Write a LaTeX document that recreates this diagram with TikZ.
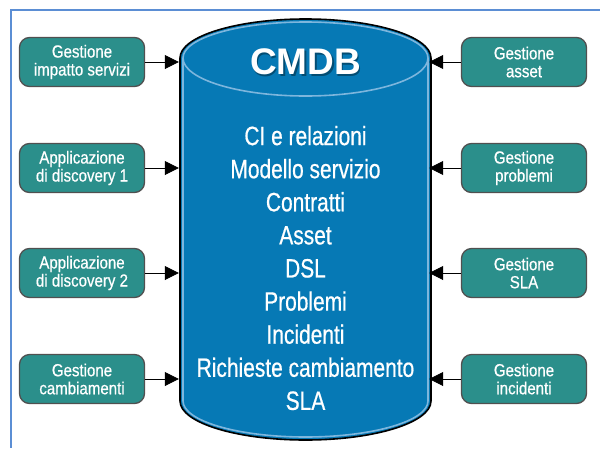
\documentclass[tikz,border=0pt]{standalone}
\usepackage{fontspec}
\setmainfont{Liberation Sans}
\newfontfamily\condfont[FakeStretch=0.86,FakeBold=0.6]{Liberation Sans}
\newfontfamily\listfont[FakeStretch=0.79,FakeBold=0.6]{Liberation Sans}
\usetikzlibrary{arrows.meta}
\definecolor{tealbox}{HTML}{2B8F8B}
\definecolor{boxedge}{HTML}{505050}
\definecolor{cylblue}{HTML}{0679B5}
\definecolor{cylrim}{HTML}{7DB6DD}
\definecolor{framecol}{HTML}{5B8ED4}
\tikzset{
  modbox/.style={draw=boxedge, line width=1.3pt, fill=tealbox, rounded corners=10pt,
    minimum width=125pt, minimum height=49pt, inner sep=0pt, align=center,
    text=white, font=\condfont\fontsize{17.5}{18}\selectfont},
  feed/.style={draw=black, line width=0.8pt, -{Triangle[length=14pt,width=14pt]}, shorten >=1pt},
}
\begin{document}
\begin{tikzpicture}[x=1pt,y=-1pt]
\useasboundingbox (0,0) rectangle (600,448);
% frame
\draw[framecol, line width=1.6pt] (600,10) -- (11,10) -- (11,448);
% cylinder
\path[fill=cylblue] (180,58) -- (180,401) arc[start angle=180, end angle=0, x radius=125.5, y radius=39]
  -- (431,58) arc[start angle=0, end angle=-180, x radius=125.5, y radius=39] -- cycle;
\draw[cylrim, line width=1.6pt] (183,58) -- (183,401) arc[start angle=180, end angle=0, x radius=122.5, y radius=36]
  -- (428,58) arc[start angle=0, end angle=-180, x radius=122.5, y radius=36] -- cycle;
\draw[cylrim, line width=1.6pt] (183,58) arc[start angle=180, end angle=0, x radius=122.5, y radius=38];
\draw[black, line width=1.6pt] (180,58) -- (180,401) arc[start angle=180, end angle=0, x radius=125.5, y radius=39]
  -- (431,58) arc[start angle=0, end angle=-180, x radius=125.5, y radius=39] -- cycle;
\node[minimum width=251pt, minimum height=422pt, inner sep=0pt] (cmdb) at (305.5,230) {};
\node[text=black!60!cylblue, opacity=0.6, font=\bfseries\fontsize{37}{40}\selectfont, inner sep=0pt] (titleshadow) at (307,63.5) {CMDB};
\node[text=white, font=\bfseries\fontsize{37}{40}\selectfont, inner sep=0pt] (title) at (305.5,62) {CMDB};
\node[text=white, align=center, inner sep=0pt, font=\listfont\fontsize{26.5}{33.1}\selectfont] (list) at (305.5,268)
  {CI e relazioni\\Modello servizio\\Contratti\\Asset\\DSL\\Problemi\\Incidenti\\Richieste cambiamento\\SLA};
% left boxes
\node[modbox] (l1) at (82,62)  {Gestione\\impatto servizi};
\node[modbox] (l2) at (82,168) {Applicazione\\di discovery 1};
\node[modbox] (l3) at (82,273) {Applicazione\\di discovery 2};
\node[modbox] (l4) at (82,379) {Gestione\\cambiamenti};
% right boxes
\node[modbox] (r1) at (524,62)  {Gestione\\asset};
\node[modbox] (r2) at (524,168) {Gestione\\problemi};
\node[modbox] (r3) at (524,273) {Gestione\\SLA};
\node[modbox] (r4) at (524,379) {Gestione\\incidenti};
% arrows
\foreach \b in {l1,l2,l3,l4} \draw[feed] (\b.east) -- (\b.east -| cmdb.west);
\foreach \b in {r1,r2,r3,r4} \draw[feed] (\b.west) -- ([xshift=-3pt]\b.west -| cmdb.east);
\end{tikzpicture}
\end{document}
